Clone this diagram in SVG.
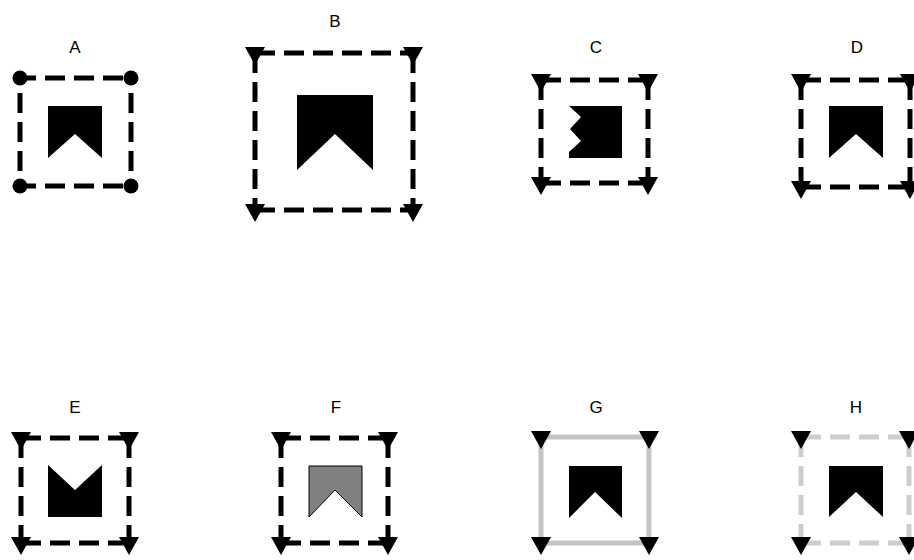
<svg xmlns="http://www.w3.org/2000/svg" width="914" height="560" viewBox="0 0 914 560">
<defs>
<marker id="tri" markerUnits="userSpaceOnUse" markerWidth="18" markerHeight="20" viewBox="0 0 18 20" refX="6" refY="10" orient="auto" overflow="visible"><path d="M0,0 L18,10 L0,20 Z" fill="#000"/></marker>
<marker id="dot" markerUnits="userSpaceOnUse" markerWidth="16" markerHeight="16" viewBox="0 0 16 16" refX="8" refY="8" orient="auto" overflow="visible"><circle cx="8" cy="8" r="7.5" fill="#000"/></marker>
</defs>
<style>
.lbl{font-family:"Liberation Sans",Arial,sans-serif;font-size:17px;fill:#000;text-anchor:middle}
.dash{stroke:#000;stroke-width:5;stroke-dasharray:20 9;fill:none}
.solidg{stroke:#c4c4c4;stroke-width:5;fill:none}
.dashg{stroke:#cdcdcd;stroke-width:5;stroke-dasharray:20 9;fill:none}
.v{marker-start:url(#tri);marker-end:url(#tri)}
.vd{marker-start:url(#dot);marker-end:url(#dot)}
.shape{fill:#000}
.shapeg{fill:#808080;stroke:#000;stroke-width:1}
</style>
<rect width="914" height="560" fill="#fff"/>

<g id="A">
<text class="lbl" x="75" y="53">A</text>
<line class="dash" x1="20" y1="78" x2="131" y2="78" stroke-dashoffset="4"/>
<line class="dash" x1="20" y1="186" x2="131" y2="186" stroke-dashoffset="4"/>
<line class="dash vd" x1="20" y1="78" x2="20" y2="186" stroke-dashoffset="14"/>
<line class="dash vd" x1="131" y1="78" x2="131" y2="186" stroke-dashoffset="14"/>
<polygon class="shape" points="48,106 102,106 102,158 75,134 48,158"/>
</g>

<g id="B">
<text class="lbl" x="335" y="27">B</text>
<line class="dash" x1="255" y1="53" x2="413" y2="53"/>
<line class="dash" x1="255" y1="210" x2="413" y2="210"/>
<line class="dash v" x1="255" y1="53" x2="255" y2="210"/>
<line class="dash v" x1="413" y1="53" x2="413" y2="210"/>
<polygon class="shape" points="297,95 373,95 373,170 335,134 297,170"/>
</g>

<g id="C">
<text class="lbl" x="596" y="53">C</text>
<line class="dash" x1="541" y1="80" x2="648" y2="80"/>
<line class="dash" x1="541" y1="183" x2="648" y2="183"/>
<line class="dash v" x1="541" y1="80" x2="541" y2="183"/>
<line class="dash v" x1="648" y1="80" x2="648" y2="183"/>
<polygon class="shape" points="569,106 622,106 622,158 569,158 569,152 581,141 570,129 581,117"/>
</g>

<g id="D">
<text class="lbl" x="857" y="53">D</text>
<line class="dash" x1="801" y1="80" x2="910" y2="80"/>
<line class="dash" x1="801" y1="187" x2="910" y2="187"/>
<line class="dash v" x1="801" y1="80" x2="801" y2="187"/>
<line class="dash v" x1="910" y1="80" x2="910" y2="187"/>
<polygon class="shape" points="829,106 883,106 883,158 856,134 829,158"/>
</g>

<g id="E">
<text class="lbl" x="75" y="413">E</text>
<line class="dash" x1="21" y1="438" x2="129" y2="438"/>
<line class="dash" x1="21" y1="543" x2="129" y2="543"/>
<line class="dash v" x1="21" y1="438" x2="21" y2="543"/>
<line class="dash v" x1="129" y1="438" x2="129" y2="543"/>
<polygon class="shape" points="48,465 75,490 102,465 102,517 48,517"/>
</g>

<g id="F">
<text class="lbl" x="336" y="413">F</text>
<line class="dash" x1="281" y1="438" x2="388" y2="438"/>
<line class="dash" x1="281" y1="543" x2="388" y2="543"/>
<line class="dash v" x1="281" y1="438" x2="281" y2="543"/>
<line class="dash v" x1="388" y1="438" x2="388" y2="543"/>
<polygon class="shapeg" points="309,466 362,466 362,517 335,490 309,517"/>
</g>

<g id="G">
<text class="lbl" x="596" y="413">G</text>
<line class="solidg" x1="541" y1="437" x2="649" y2="437"/>
<line class="solidg" x1="541" y1="543" x2="649" y2="543"/>
<line class="solidg v" x1="541" y1="437" x2="541" y2="543"/>
<line class="solidg v" x1="649" y1="437" x2="649" y2="543"/>
<polygon class="shape" points="569,466 622,466 622,518 595,492 569,518"/>
</g>

<g id="H">
<text class="lbl" x="856" y="413">H</text>
<line class="dashg" x1="801" y1="437" x2="909" y2="437"/>
<line class="dashg" x1="801" y1="543" x2="909" y2="543"/>
<line class="dashg v" x1="801" y1="437" x2="801" y2="543"/>
<line class="dashg v" x1="909" y1="437" x2="909" y2="543"/>
<polygon class="shape" points="829,466 883,466 883,517 856,492 829,517"/>
</g>

<g id="connectors"></g>
</svg>
